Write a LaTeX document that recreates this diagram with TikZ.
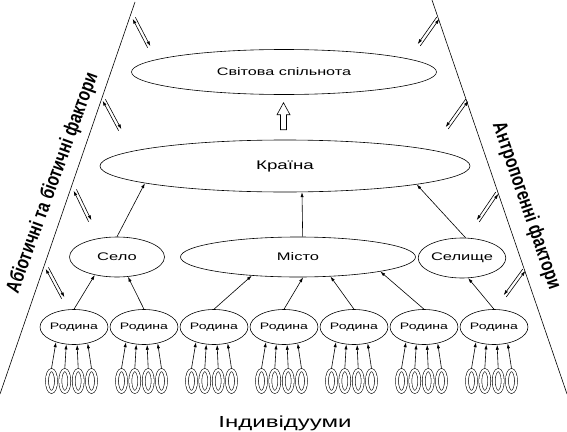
\documentclass[tikz,border=0pt]{standalone}
\usepackage{fontspec}
\setmainfont{Liberation Sans}
\usepackage{graphicx}
\usetikzlibrary{arrows.meta,shapes.geometric,calc}
\newcommand{\wtxt}[2]{{\fontsize{#1}{#1}\selectfont\scalebox{1.5}[1]{#2}}}
\newcommand{\sidetxt}[1]{{\bfseries\fontsize{20}{20}\selectfont\scalebox{0.78}[1]{#1}}}

\begin{document}
\begin{tikzpicture}[x=1pt,y=-1pt,
  every node/.style={inner sep=0pt},
  lvl/.style={ellipse,draw,line width=0.6pt},
  tip/.style={line width=0.6pt,-{Latex[length=5pt,width=3.2pt]}},
  ind/.style={ellipse,draw,double,double distance=2.4pt,line width=0.55pt,
    minimum width=9pt,minimum height=22pt,outer sep=1.5pt}]
\useasboundingbox (0,0) rectangle (567,431);
% boundaries and factors
\draw[line width=0.6pt] (135,2) -- (0,394);
\draw[line width=0.6pt] (432,0) -- (567,394);
\node[rotate=70] (abio) at (53,183) {\sidetxt{Абіотичні та біотичні фактори}};
\node[rotate=-71] (anthro) at (526,206) {\sidetxt{Антропогенні фактори}};
\foreach \xa/\ya/\xb/\yb in {134/18/149/47, 104/100/120/130, 75/190/90/221, 47/268/63/298}{
  \draw[tip] (\xb-1.4,\yb+0.7) -- (\xa-1.4,\ya+0.7);
  \draw[tip] (\xa+1.4,\ya-0.7) -- (\xb+1.4,\yb-0.7);
}
\foreach \xa/\ya/\xb/\yb in {419/45/438/18, 447/128/467/100, 478/221/497/193, 505/296/524/270}{
  \draw[tip] (\xa+1.3,\ya+0.9) -- (\xb+1.3,\yb+0.9);
  \draw[tip] (\xb-1.3,\yb-0.9) -- (\xa-1.3,\ya-0.9);
}
% levels
\node[lvl, minimum width=305pt, minimum height=45pt] (world) at (284,72) {\wtxt{10.8}{Світова спільнота}};
\node[lvl, minimum width=370pt, minimum height=52pt] (country) at (285,166) {\wtxt{12.5}{Країна}};
\draw[line width=0.6pt] ($(country.north)+(-4.5,-10)$) -- ++(0,-15) -- ++(-3.5,0)
  -- ++(6.5,-12) -- ++(6.5,12) -- ++(-3.5,0) -- ++(0,15) -- cycle;
\node[lvl, minimum width=95pt, minimum height=40pt] (selo) at (117,257) {\wtxt{11}{Село}};
\node[lvl, minimum width=235pt, minimum height=40pt] (misto) at (298,257) {\wtxt{11}{Місто}};
\node[lvl, minimum width=72pt, minimum height=40pt] (selyshche) at (462,258) {\wtxt{11}{Селище}};
\draw[tip] (selo.north) -- (country.187);
\draw[tip] (misto.77) -- (country.303);
\draw[tip] (selyshche.80) -- (country.352);
% families and individuals
\foreach \r in {1,...,7}{
  \node[lvl, minimum width=65pt, minimum height=35pt] (r\r) at (4+70*\r,327) {\wtxt{9.4}{Родина}};
  \foreach \k/\dx/\a in {1/-22.5/220, 2/-9.2/246, 3/4.2/280, 4/17.5/310}{
    \node[ind] (i\r-\k) at (4+70*\r+\dx,381) {};
    \draw[tip] (i\r-\k.north) -- (r\r.\a);
  }
}
\draw[tip] (r1.north) -- (selo.219);
\draw[tip] (r2.north) -- (selo.299);
\draw[tip] (r3.north) -- (misto.202);
\draw[tip] (r4.north) -- (misto.284);
\draw[tip] (r5.north) -- (misto.329);
\draw[tip] (r6.north) -- (misto.350);
\draw[tip] (r7.north) -- (selyshche.287);
\node (indiv) at (285,423) {\wtxt{16}{Індивідууми}};
\end{tikzpicture}
\end{document}
